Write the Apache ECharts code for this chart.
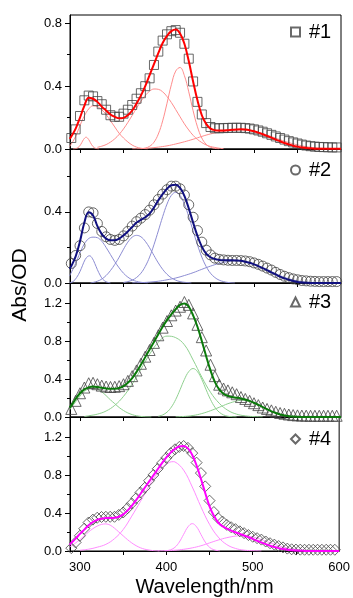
<!DOCTYPE html>
<html>
<head>
<meta charset="utf-8">
<script src="https://cdn.jsdelivr.net/npm/echarts@6/dist/echarts.min.js"></script>
<style>
  html, body { margin: 0; padding: 0; background: #fff; }
  #chart { width: 353px; height: 598px; }
</style>
</head>
<body>
<div id="chart"></div>
<script>
// wavelength grids (nm)
const wlData = [290,295,300,305,310,315,320,325,330,335,340,345,350,355,360,365,370,375,380,385,
  390,395,400,405,410,415,420,425,430,435,440,445,450,455,460,465,470,475,480,485,
  490,495,500,505,510,515,520,525,530,535,540,545,550,555,560,565,570,575,580,585,590,595]
const wlFit = [288,290,295,300,305,310,315,320,325,330,335,340,345,350,355,360,365,370,375,380,385,
  390,395,400,405,410,415,420,425,430,435,440,445,450,455,460,465,470,475,480,485,
  490,495,500,505,510,515,520,525,530,535,540,545,550,555,560,565,570,575,580,585,590,595,600]

// #1 (red)
const abs1 = [0.07,0.125,0.21,0.31,0.34,0.335,0.305,0.285,0.25,0.215,
  0.205,0.205,0.225,0.25,0.28,0.32,0.355,0.40,0.45,0.535,
  0.62,0.69,0.73,0.75,0.757,0.74,0.67,0.575,0.43,0.30,
  0.22,0.165,0.14,0.132,0.132,0.133,0.134,0.135,0.135,0.135,
  0.133,0.13,0.125,0.118,0.11,0.10,0.09,0.08,0.07,0.06,
  0.05,0.042,0.035,0.028,0.022,0.018,0.015,0.013,0.012,0.011,0.01,0.01]
const fit1 = [0.065,
  0.08,0.13,0.2,0.275,0.327,0.32,0.30,0.27,0.245,0.22,
  0.205,0.195,0.198,0.215,0.245,0.29,0.34,0.40,0.47,0.54,
  0.61,0.675,0.72,0.75,0.76,0.735,0.67,0.56,0.43,0.31,
  0.215,0.16,0.13,0.12,0.118,0.118,0.12,0.122,0.124,0.125,
  0.124,0.12,0.113,0.104,0.094,0.083,0.072,0.06,0.049,0.038,
  0.029,0.021,0.015,0.01,0.006,0.004,0.002,0.001,0.001,0.001,
  0.001,0.001,0.001]
const peaks1 = [
  [[292,0],[296,0.004],[299,0.015],[302,0.04],[304,0.06],[307,0.075],[310,0.06],[312,0.04],[315,0.015],[318,0.004],[322,0]],
  [[288,0.015],[295,0.08],[300,0.15],[305,0.21],[310,0.255],[315,0.275],[320,0.27],[325,0.25],[330,0.22],[335,0.18],[340,0.14],[345,0.10],[350,0.07],[355,0.045],[360,0.025],[365,0.012],[370,0.005],[378,0]],
  [[320,0.011],[325,0.018],[330,0.028],[335,0.044],[340,0.065],[345,0.093],[350,0.128],[355,0.169],[360,0.214],[365,0.26],[370,0.304],[375,0.341],[380,0.368],[385,0.382],[390,0.38],[395,0.364],[400,0.334],[405,0.296],[410,0.251],[415,0.205],[420,0.16],[425,0.121],[430,0.087],[435,0.061],[440,0.041],[445,0.026],[450,0.016],[455,0.01],[460,0.005],[465,0.002]],
  [[370,0.002],[375,0.006],[380,0.017],[385,0.043],[390,0.095],[395,0.179],[400,0.291],[405,0.409],[410,0.496],[415,0.519],[420,0.467],[425,0.364],[430,0.244],[435,0.141],[440,0.07],[445,0.03],[450,0.011],[455,0.004],[460,0.001]],
  [[360,0.001],[370,0.002],[380,0.006],[390,0.012],[400,0.02],[410,0.032],[420,0.046],[430,0.062],[440,0.08],[450,0.096],[460,0.108],[470,0.117],[480,0.122],[490,0.121],[500,0.113],[510,0.098],[520,0.079],[530,0.059],[540,0.041],[550,0.026],[560,0.015],[570,0.008],[580,0.004],[590,0.002],[600,0.001]]
]

// #2 (blue)
const abs2 = [0.11,0.155,0.21,0.31,0.40,0.395,0.335,0.29,0.26,0.245,
  0.24,0.245,0.265,0.29,0.32,0.345,0.365,0.385,0.41,0.44,
  0.47,0.50,0.525,0.545,0.545,0.53,0.495,0.44,0.37,0.295,
  0.23,0.185,0.158,0.14,0.133,0.13,0.128,0.127,0.127,0.126,
  0.124,0.12,0.113,0.105,0.095,0.084,0.073,0.06,0.048,0.038,
  0.03,0.023,0.018,0.014,0.012,0.01,0.009,0.008,0.008,0.008,0.008,0.008]
const fit2 = [0.08,
  0.095,0.15,0.235,0.34,0.398,0.38,0.32,0.275,0.25,0.24,
  0.24,0.25,0.268,0.29,0.315,0.34,0.355,0.37,0.39,0.425,
  0.465,0.50,0.53,0.55,0.553,0.535,0.49,0.42,0.34,0.265,
  0.205,0.165,0.145,0.135,0.13,0.128,0.128,0.128,0.127,0.125,
  0.12,0.114,0.105,0.095,0.084,0.072,0.06,0.048,0.036,0.026,
  0.018,0.011,0.006,0.003,0.001,0,0,0,0,0,
  0,0,0]
const peaks2 = [
  [[288,0.001],[292,0.008],[296,0.03],[300,0.065],[303,0.1],[306,0.133],[309,0.15],[311,0.153],[314,0.14],[317,0.11],[320,0.075],[323,0.045],[326,0.022],[330,0.007],[335,0]],
  [[288,0.04],[295,0.11],[300,0.17],[305,0.22],[310,0.25],[315,0.258],[320,0.255],[325,0.235],[330,0.2],[335,0.16],[340,0.12],[345,0.085],[350,0.055],[355,0.033],[360,0.018],[365,0.009],[370,0.004],[378,0]],
  [[312,0],[315,0.003],[320,0.01],[325,0.022],[330,0.042],[335,0.07],[340,0.105],[345,0.145],[350,0.19],[355,0.23],[360,0.258],[365,0.268],[370,0.26],[375,0.235],[380,0.198],[385,0.155],[390,0.113],[395,0.077],[400,0.049],[405,0.029],[410,0.016],[415,0.008],[420,0.004],[428,0]],
  [[350,0.003],[355,0.008],[360,0.016],[365,0.031],[370,0.055],[375,0.093],[380,0.146],[385,0.215],[390,0.293],[395,0.373],[400,0.444],[405,0.493],[410,0.51],[415,0.493],[420,0.444],[425,0.373],[430,0.293],[435,0.215],[440,0.146],[445,0.093],[450,0.055],[455,0.031],[460,0.016],[465,0.008],[470,0.003],[478,0]],
  [[360,0.001],[370,0.002],[380,0.005],[390,0.01],[400,0.018],[410,0.028],[420,0.042],[430,0.058],[440,0.077],[450,0.095],[460,0.11],[470,0.12],[480,0.125],[490,0.12],[500,0.105],[510,0.085],[520,0.062],[530,0.041],[540,0.024],[550,0.012],[560,0.005],[570,0.002],[580,0]]
]

// #3 (green)
const abs3 = [0.085,0.17,0.25,0.31,0.355,0.36,0.345,0.33,0.32,0.316,
  0.318,0.325,0.345,0.38,0.43,0.49,0.56,0.635,0.705,0.78,
  0.86,0.94,1.01,1.07,1.12,1.16,1.21,1.18,1.09,0.97,
  0.84,0.70,0.55,0.43,0.34,0.30,0.28,0.26,0.24,0.21,
  0.19,0.17,0.145,0.125,0.10,0.085,0.07,0.055,0.042,0.034,
  0.026,0.02,0.017,0.015,0.014,0.013,0.013,0.013,0.013,0.013,0.013,0.013]
const fit3 = [0.10,
  0.12,0.19,0.25,0.29,0.312,0.32,0.316,0.308,0.3,0.297,
  0.298,0.305,0.325,0.36,0.41,0.475,0.55,0.63,0.71,0.79,
  0.87,0.95,1.02,1.08,1.135,1.18,1.195,1.16,1.07,0.95,
  0.8,0.64,0.49,0.37,0.29,0.245,0.222,0.21,0.203,0.195,
  0.185,0.17,0.15,0.128,0.105,0.082,0.06,0.042,0.027,0.016,
  0.009,0.004,0.002,0,0,0,0,0,0,0,
  0,0,0]
const peaks3 = [
  [[288,0.075],[295,0.16],[300,0.22],[305,0.27],[310,0.295],[315,0.305],[320,0.295],[325,0.265],[330,0.225],[335,0.18],[340,0.14],[345,0.1],[350,0.068],[355,0.043],[360,0.025],[365,0.013],[370,0.006],[375,0.002],[382,0]],
  [[305,0.005],[310,0.013],[320,0.03],[330,0.063],[340,0.123],[350,0.217],[360,0.347],[370,0.502],[380,0.66],[390,0.787],[400,0.851],[410,0.835],[420,0.76],[430,0.6],[440,0.42],[450,0.26],[460,0.145],[470,0.07],[480,0.03],[490,0.012],[500,0.004],[510,0.001]],
  [[390,0.008],[395,0.022],[400,0.051],[405,0.104],[410,0.184],[415,0.287],[420,0.395],[425,0.478],[430,0.51],[435,0.478],[440,0.395],[445,0.287],[450,0.184],[455,0.104],[460,0.051],[465,0.022],[470,0.008],[475,0.003],[480,0]],
  [[410,0.002],[420,0.006],[430,0.016],[440,0.036],[450,0.066],[460,0.102],[470,0.14],[480,0.168],[485,0.175],[490,0.172],[500,0.145],[510,0.105],[520,0.062],[530,0.028],[540,0.01],[550,0.003],[560,0]]
]

// #4 (magenta)
const abs4 = [0.03,0.09,0.16,0.235,0.30,0.33,0.35,0.358,0.36,0.36,
  0.36,0.38,0.405,0.45,0.50,0.555,0.615,0.665,0.74,0.80,
  0.865,0.925,0.98,1.03,1.07,1.095,1.105,1.085,1.03,0.93,
  0.82,0.68,0.53,0.41,0.345,0.31,0.275,0.25,0.23,0.207,
  0.188,0.168,0.15,0.135,0.12,0.10,0.082,0.067,0.052,0.038,
  0.025,0.018,0.015,0.014,0.013,0.013,0.013,0.013,0.013,0.013,0.013,0.013]
const fit4 = [0.065,
  0.085,0.13,0.18,0.225,0.27,0.305,0.328,0.34,0.347,0.347,
  0.35,0.36,0.385,0.425,0.475,0.535,0.6,0.665,0.73,0.795,
  0.86,0.925,0.985,1.035,1.075,1.1,1.105,1.08,1.01,0.9,
  0.76,0.61,0.47,0.37,0.3,0.26,0.235,0.215,0.197,0.18,
  0.163,0.145,0.127,0.108,0.09,0.072,0.056,0.042,0.03,0.02,
  0.013,0.008,0.004,0.002,0.001,0,0,0,0,0,
  0,0,0]
const peaks4 = [
  [[288,0.04],[295,0.085],[300,0.12],[305,0.16],[310,0.2],[315,0.235],[320,0.262],[325,0.28],[330,0.285],[335,0.272],[340,0.24],[345,0.2],[350,0.16],[355,0.12],[360,0.085],[365,0.056],[370,0.034],[375,0.019],[380,0.01],[385,0.004],[392,0]],
  [[300,0.008],[310,0.019],[320,0.04],[330,0.07],[340,0.13],[350,0.225],[360,0.367],[370,0.521],[380,0.683],[390,0.823],[400,0.916],[408,0.94],[410,0.937],[420,0.851],[430,0.674],[440,0.466],[450,0.28],[460,0.147],[470,0.067],[480,0.027],[490,0.009],[500,0.003],[510,0]],
  [[398,0],[400,0.003],[405,0.013],[410,0.039],[415,0.094],[420,0.175],[425,0.254],[430,0.288],[435,0.254],[440,0.175],[445,0.094],[450,0.039],[455,0.013],[460,0.003],[462,0]],
  [[390,0.001],[400,0.003],[410,0.008],[420,0.018],[430,0.033],[440,0.055],[450,0.085],[460,0.115],[470,0.14],[480,0.157],[487,0.161],[490,0.16],[500,0.148],[510,0.12],[520,0.087],[530,0.056],[540,0.032],[550,0.016],[560,0.007],[570,0.003],[580,0]]
]

const xMajor = [300, 350, 400, 450, 500, 550]
const xLabels = [300, 400, 500, 600]

const FONT = 'Liberation Sans, Arial, sans-serif'
const panels = [
  { name: '#1', abs: abs1, fit: fit1, peaks: peaks1, symbol: 'rect', size: 9, fitColor: '#ff0000', peakColor: '#ff8c8c',
    yMax: 0.853, yMajor: [0, 0.4, 0.8], yMinor: [0.2, 0.6] },
  { name: '#2', abs: abs2, fit: fit2, peaks: peaks2, symbol: 'circle', size: 10, fitColor: '#10107f', peakColor: '#8c8cd2',
    yMax: 0.754, yMajor: [0, 0.4], yMinor: [0.2, 0.6] },
  { name: '#3', abs: abs3, fit: fit3, peaks: peaks3, symbol: 'triangle', size: 11, fitColor: '#0a7a0a', peakColor: '#8fd08f',
    yMax: 1.41, yMajor: [0, 0.4, 0.8, 1.2], yMinor: [0.2, 0.6, 1.0] },
  { name: '#4', abs: abs4, fit: fit4, peaks: peaks4, symbol: 'diamond', size: 11, fitColor: '#ff00ff', peakColor: '#ff8cff',
    yMax: 1.41, yMajor: [0, 0.4, 0.8, 1.2], yMinor: [0.2, 0.6, 1.0] }
]
const tops = [15, 149, 283, 417]
const legendTops = [22, 160, 292, 429]

const zip = (xs, ys) => ys.map((v, i) => [xs[i], v])

const grid = [], xAxis = [], yAxis = [], series = [], legend = []
panels.forEach((p, i) => {
  grid.push({ left: 70, width: 271, top: tops[i], height: 134, show: true, borderColor: '#000', borderWidth: 1 })
  xAxis.push({
    type: 'value', gridIndex: i, min: 288.5, max: 600,
    splitLine: { show: false },
    axisLine: { lineStyle: { color: '#000', width: 1 } },
    axisTick: { customValues: xMajor, length: 4, lineStyle: { color: '#000' } },
    axisLabel: { show: i === 3, customValues: xLabels, fontSize: 13, margin: 10, color: '#000', fontFamily: FONT },
    name: i === 3 ? 'Wavelength/nm' : '',
    nameLocation: 'middle', nameGap: 26,
    nameTextStyle: { fontSize: 20, color: '#000', fontFamily: FONT }
  })
  yAxis.push({
    type: 'value', gridIndex: i, min: 0, max: p.yMax, position: 'left',
    splitLine: { show: false },
    axisLine: { show: true, lineStyle: { color: '#000', width: 1 } },
    axisTick: { customValues: p.yMajor, length: 5, lineStyle: { color: '#000' } },
    axisLabel: { customValues: p.yMajor, fontSize: 13, margin: 8, color: '#000', fontFamily: FONT,
      formatter: (v) => v.toFixed(1) }
  })
  // minor ticks on the same left edge
  yAxis.push({
    type: 'value', gridIndex: i, min: 0, max: p.yMax, position: 'left', offset: 0,
    splitLine: { show: false },
    axisLine: { show: false },
    axisTick: { customValues: p.yMinor, length: 3, lineStyle: { color: '#000' } },
    axisLabel: { show: false }
  })
  p.peaks.forEach((pk) => {
    series.push({
      type: 'line', xAxisIndex: i, yAxisIndex: i * 2, data: pk, smooth: 0.4,
      showSymbol: false, silent: true, z: 2,
      lineStyle: { color: p.peakColor, width: 1 }
    })
  })
  series.push({
    name: p.name, type: 'scatter', xAxisIndex: i, yAxisIndex: i * 2,
    data: zip(wlData, p.abs), symbol: p.symbol, symbolSize: p.size, z: 3,
    itemStyle: { color: 'rgba(255,255,255,0)', borderColor: '#444', borderWidth: 1 }
  })
  series.push({
    type: 'line', xAxisIndex: i, yAxisIndex: i * 2, data: zip(wlFit, p.fit), smooth: 0.4,
    showSymbol: false, z: 4,
    lineStyle: { color: p.fitColor, width: 2 }
  })
  legend.push({
    data: [p.name], left: 290, top: legendTops[i], padding: 0, selectedMode: false,
    itemWidth: 9, itemHeight: 9,
    textStyle: { fontSize: 20, color: '#000', fontFamily: FONT, padding: [0, 0, 0, 4] }
  })
})

const chart = echarts.init(document.getElementById('chart'), null, { renderer: 'canvas' })
chart.setOption({
  animation: false,
  backgroundColor: '#fff',
  grid, xAxis, yAxis, series, legend,
  graphic: [{
    type: 'text', x: 20, y: 285, rotation: Math.PI / 2,
    style: { text: 'Abs/OD', fontSize: 21, fontFamily: FONT, fill: '#000', align: 'center', verticalAlign: 'middle' }
  }]
})
</script>
</body>
</html>
